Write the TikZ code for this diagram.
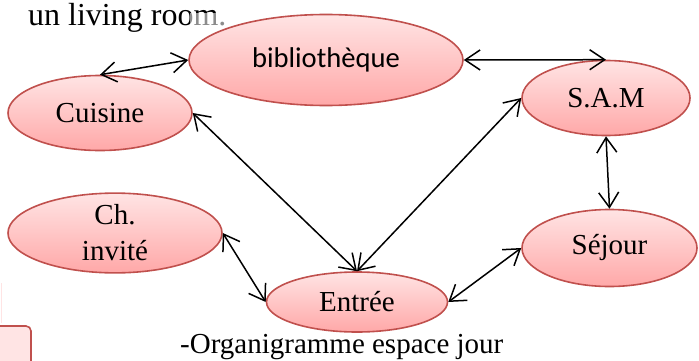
\documentclass[tikz,border=0pt]{standalone}
\usepackage{fontspec}
\setmainfont{Liberation Serif}
\newfontfamily\calibri{Carlito}
\usepackage{tikz}
\usetikzlibrary{arrows.meta,shapes.geometric}
\definecolor{roseTop}{HTML}{FFE4E4}
\definecolor{roseBot}{HTML}{FFA8A8}
\definecolor{roseLine}{HTML}{C0504D}

\begin{document}
\begin{tikzpicture}[x=1pt,y=1pt,
  piece/.style={ellipse,draw=roseLine,line width=1.6pt,top color=roseTop,bottom color=roseBot,
    inner sep=0pt,font=\fontsize{29}{36}\selectfont,align=center},
  link/.style={{Straight Barb[length=15pt,width=20pt]}-{Straight Barb[length=15pt,width=20pt]},line width=1.5pt}]
\useasboundingbox (0,0) rectangle (699,360);
\clip (0,0) rectangle (699,360);
% text around the figure
\node[anchor=base west,inner sep=0pt,font=\fontsize{32}{38}\selectfont] (titre) at (28,335) {un living room.};
\node[anchor=base west,inner sep=0pt,font=\fontsize{29}{34}\selectfont] (legende) at (180,7) {-Organigramme espace jour};
% pieces
\fill[white,opacity=.55] (190,253) rectangle (463,347);
\node[piece,minimum width=274pt,minimum height=91pt,font=\calibri\fontsize{28.6}{34}\selectfont] (bib) at (326,300) {bibliothèque};
\node[piece,minimum width=184pt,minimum height=75pt] (cuisine) at (100,247) {Cuisine};
\node[piece,minimum width=168pt,minimum height=75pt] (sam) at (606,262) {S.A.M};
\node[piece,minimum width=214pt,minimum height=77pt] (chambre) at (115,127) {Ch.\\invité};
\node[piece,minimum width=181pt,minimum height=60pt] (entree) at (357,58) {Entrée};
\node[piece,minimum width=175pt,minimum height=77pt] (sejour) at (609.5,112) {Séjour};
% liaisons
\draw[link] (cuisine.north) -- (bib.west);
\draw[link] (bib.east) -- (sam.north);
\draw[link] (cuisine.east) -- (entree.north);
\draw[link] (sam.west) -- (entree.north);
\draw[link] (sam.south) -- (sejour.north);
\draw[link] (chambre.east) -- (entree.west);
\draw[link] (sejour.west) -- (entree.east);
% bouts d'une autre figure
\draw[roseLine,line width=1.6pt,fill=roseTop,rounded corners=5pt] (-40,-20) rectangle (31,34);
\draw[roseTop,line width=1pt] (1,77) -- (1,37);
\end{tikzpicture}
\end{document}
